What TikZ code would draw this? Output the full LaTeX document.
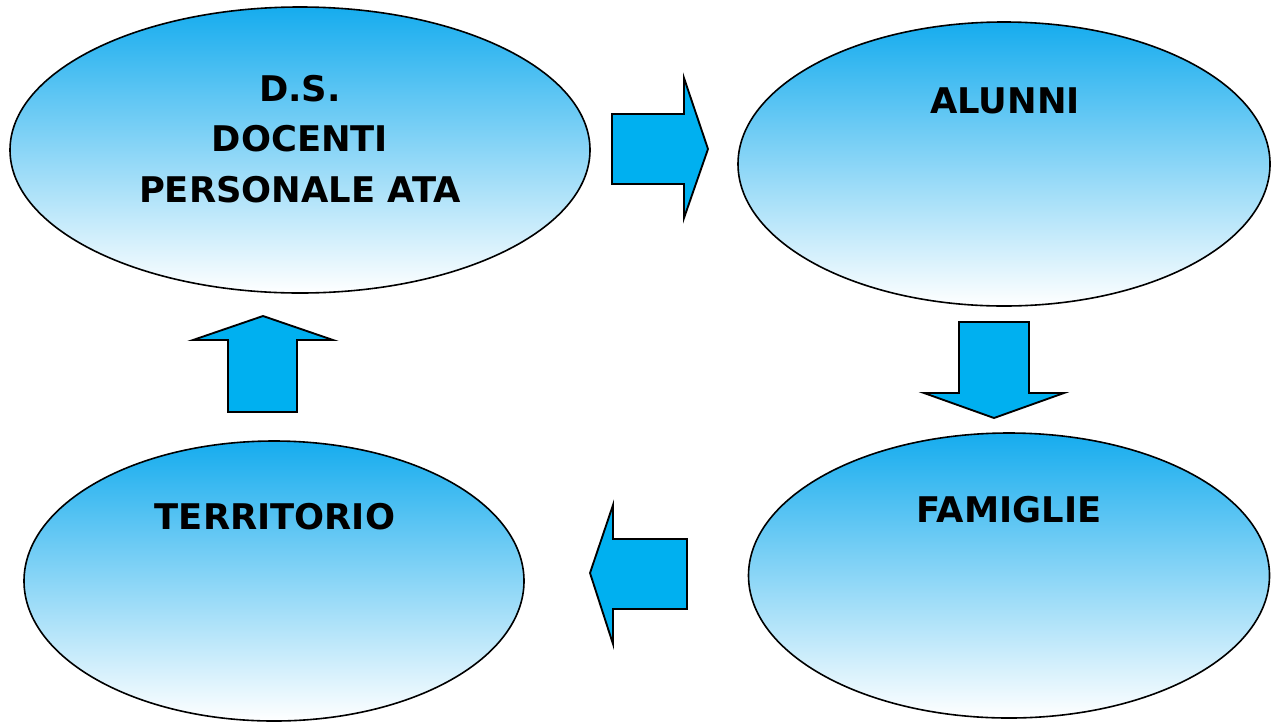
\documentclass[tikz,border=0pt]{standalone}
\usepackage{fontspec}
\setmainfont{DejaVu Sans}
\usetikzlibrary{positioning, shapes.geometric}

\definecolor{skyblue}{RGB}{22,172,238}
\definecolor{arrowblue}{RGB}{0,176,240}

\begin{document}
\begin{tikzpicture}[
      x=0.75pt, y=-0.75pt,
      bubble/.style={draw, ellipse, line width=1.2pt, inner sep=0pt, top color=skyblue, bottom color=white},
      grouptext/.style={font=\fontsize{26.5}{38}\selectfont\bfseries, align=center, inner sep=0pt},
      blockarrow/.style={draw, fill=arrowblue, line width=1.4pt, line join=miter}
  ]
    \useasboundingbox (0,0) rectangle (1276,722);

    % the four groups
    \node[bubble, minimum width=435pt, minimum height=214.5pt] (staff) at (300,150) {};
    \node[bubble, minimum width=399pt, minimum height=213pt] (alunni) at (1004,164) {};
    \node[bubble, minimum width=390.75pt, minimum height=213.75pt] (famiglie) at (1009,575.5) {};
    \node[bubble, minimum width=375pt, minimum height=210pt] (territorio) at (274,581) {};

    \node[grouptext] (stafftxt) at (300,139) {D.S.\\DOCENTI\\PERSONALE ATA};
    \node[grouptext] (alunnitxt) at (1005,101) {ALUNNI};
    \node[grouptext] (famiglietxt) at (1009,510) {FAMIGLIE};
    \node[grouptext] (territoriotxt) at (275,517) {TERRITORIO};

    % block arrows between the groups
    \draw[blockarrow] (612,114) -- (684,114) -- (684,78) -- (708,149) -- (684,218) -- (684,184) -- (612,184) -- cycle;
    \draw[blockarrow] (959,322) -- (1029,322) -- (1029,393) -- (1064,393) -- (994,418) -- (924,393) -- (959,393) -- cycle;
    \draw[blockarrow] (687,539) -- (613,539) -- (613,505) -- (590,573) -- (613,644) -- (613,609) -- (687,609) -- cycle;
    \draw[blockarrow] (228,412) -- (228,340) -- (193,340) -- (263,316) -- (333,340) -- (297,340) -- (297,412) -- cycle;
  \end{tikzpicture}
\end{document}
